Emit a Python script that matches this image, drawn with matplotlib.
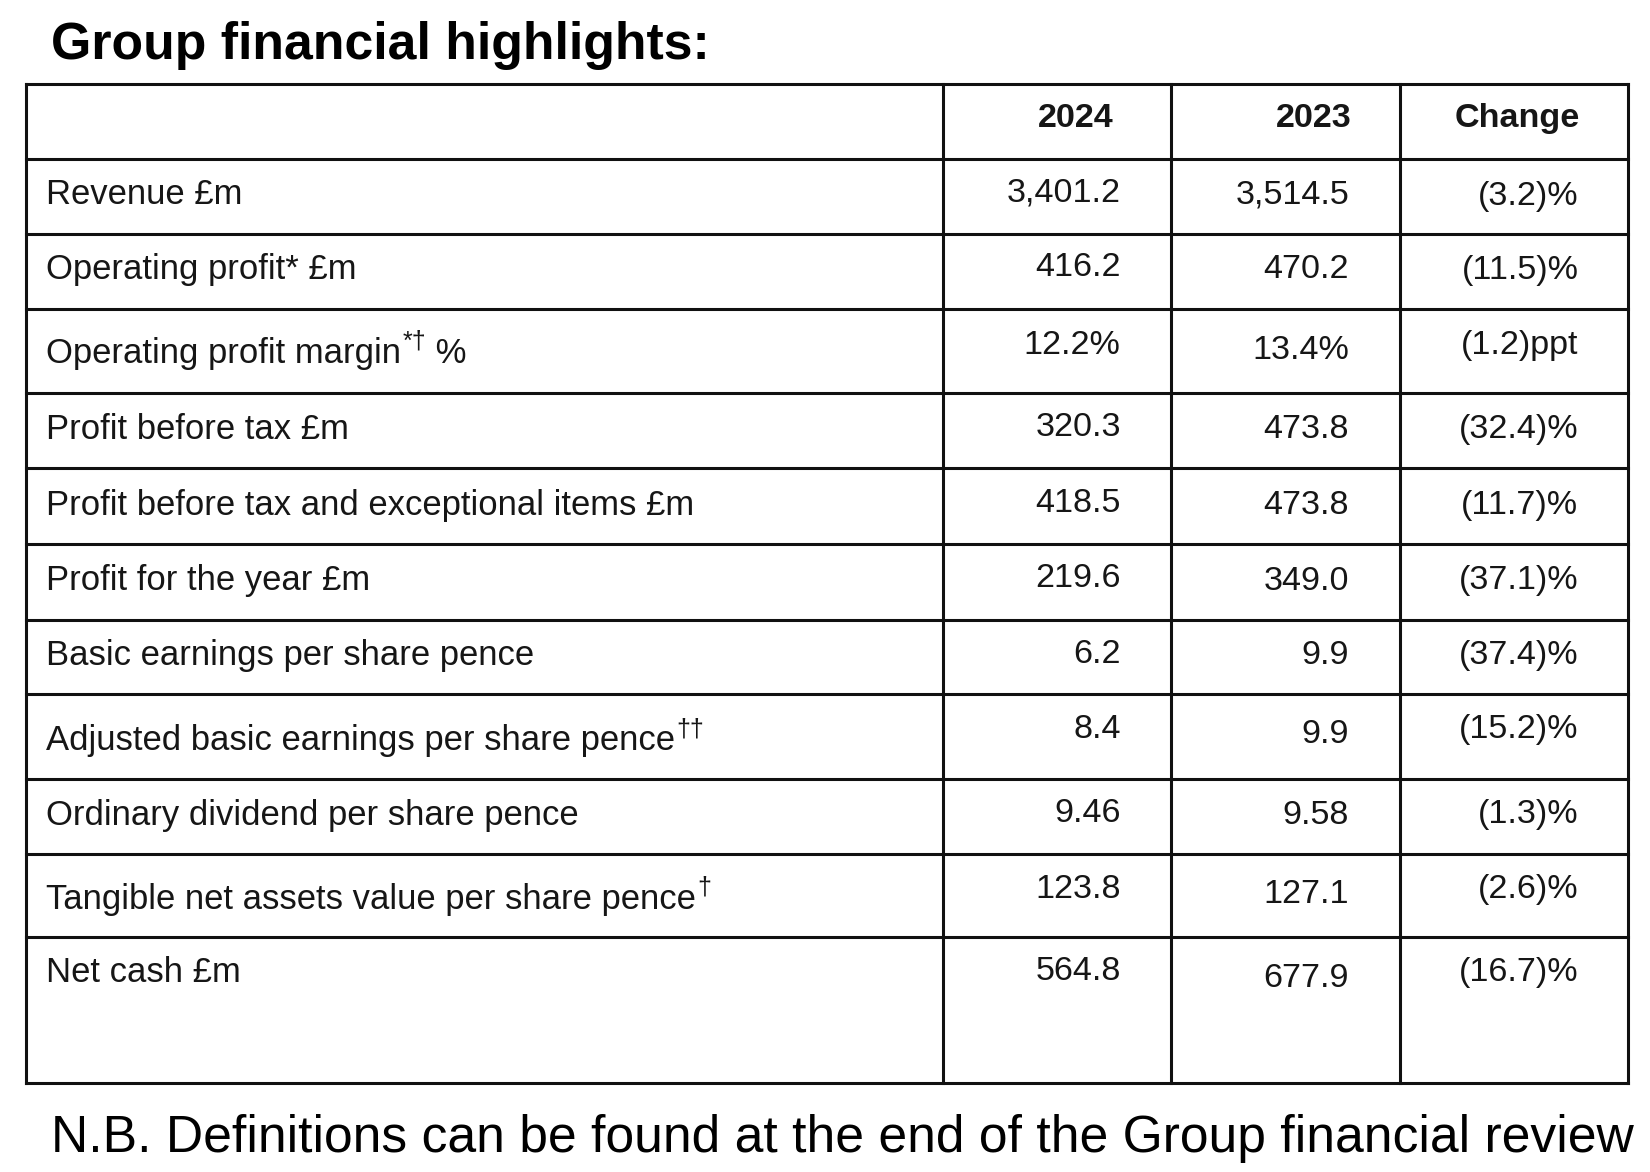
import matplotlib
matplotlib.use("Agg")
import matplotlib.pyplot as plt
from matplotlib.transforms import IdentityTransform

# ---------------- data ----------------
title = "Group financial highlights:"
footnote = "N.B. Definitions can be found at the end of the Group financial review"
col_headers = ["2024", "2023", "Change"]
row_labels = [
    "Revenue £m",
    "Operating profit* £m",
    "Operating profit margin",
    "Profit before tax £m",
    "Profit before tax and exceptional items £m",
    "Profit for the year £m",
    "Basic earnings per share pence",
    "Adjusted basic earnings per share pence",
    "Ordinary dividend per share pence",
    "Tangible net assets value per share pence",
    "Net cash £m",
]
label_sups = ["", "", "*†", "", "", "", "", "††", "", "†", ""]
label_tails = ["", "", " %", "", "", "", "", "", "", "", ""]
values_2024 = ["3,401.2", "416.2", "12.2%", "320.3", "418.5", "219.6",
               "6.2", "8.4", "9.46", "123.8", "564.8"]
values_2023 = ["3,514.5", "470.2", "13.4%", "473.8", "473.8", "349.0",
               "9.9", "9.9", "9.58", "127.1", "677.9"]
changes = ["(3.2)%", "(11.5)%", "(1.2)ppt", "(32.4)%", "(11.7)%", "(37.1)%",
           "(37.4)%", "(15.2)%", "(1.3)%", "(2.6)%", "(16.7)%"]

# ---------------- layout (in 1568-wide reference pixel units) ----------------
W, H = 1568, 1114
col_lines = [25, 896, 1113, 1330, 1547]
row_lines = [80, 151, 222, 294, 374, 445, 517, 589, 660, 740, 812, 891, 1029]
label_x = 44
header_right = [1058, 1284, 1501]
value_right = [1065, 1282, 1500]
header_y = 109
label_y = [182, 253, 333, 405, 477, 548, 620, 701, 772, 852, 921]
col_y = [
    [180, 251, 325, 403, 475, 547, 619, 690, 770, 842, 920],
    [182, 253, 330, 405, 477, 549, 620, 695, 772, 847, 927],
    [183, 254, 325, 405, 477, 548, 620, 690, 771, 842, 921],
]

FONT = "Liberation Sans"
TXT = "#161616"
BODY = 24.6
LABEL = 24.9
SUP = 18
LINE = "#111111"

fig = plt.figure(figsize=(16.5, 11.72), dpi=100)
ax = fig.add_axes([0, 0, 1, 1])
ax.set_xlim(0, W)
ax.set_ylim(H, 0)
ax.axis("off")

# grid lines
for x in col_lines:
    ax.plot([x, x], [row_lines[0], row_lines[-1]], color=LINE, lw=2.2,
            solid_capstyle="projecting")
for y in row_lines:
    ax.plot([col_lines[0], col_lines[-1]], [y, y], color=LINE, lw=2.2,
            solid_capstyle="projecting")

# title & footnote
ax.text(48, 38, title, fontsize=37.3, fontweight="bold", family=FONT,
        color="#000000", va="center_baseline", ha="left")
ax.text(48, 1077, footnote, fontsize=37.2, family=FONT, color="#000000",
        va="center_baseline", ha="left")

# headers
for j, h in enumerate(col_headers):
    ax.text(header_right[j], header_y, h, fontsize=BODY, fontweight="bold",
            family=FONT, color=TXT, ha="right", va="center_baseline")

# row labels
label_artists = []
for i, lab in enumerate(row_labels):
    t = ax.text(label_x, label_y[i], lab, fontsize=LABEL, family=FONT,
                color=TXT, ha="left", va="center_baseline")
    label_artists.append(t)

# values
for j, col in enumerate([values_2024, values_2023, changes]):
    for i, v in enumerate(col):
        ax.text(value_right[j], col_y[j][i], v, fontsize=BODY, family=FONT,
                color=TXT, ha="right", va="center_baseline")

# superscripts and tails
fig.canvas.draw()
r = fig.canvas.get_renderer()
pt = fig.dpi / 72.0
for i, t in enumerate(label_artists):
    if not label_sups[i]:
        continue
    bb = t.get_window_extent(r)
    base_disp = ax.transData.transform((label_x, label_y[i]))[1] - 0.36 * LABEL * pt
    sx = bb.x1 + 1
    s = fig.text(sx, base_disp + 0.40 * LABEL * pt, label_sups[i], fontsize=SUP,
                 family=FONT, color=TXT, ha="left", va="baseline",
                 transform=IdentityTransform())
    if label_tails[i]:
        sb = s.get_window_extent(r)
        fig.text(sb.x1, base_disp, label_tails[i], fontsize=LABEL, family=FONT,
                 color=TXT, ha="left", va="baseline",
                 transform=IdentityTransform())

fig.savefig("out.png", dpi=100, facecolor="white")
